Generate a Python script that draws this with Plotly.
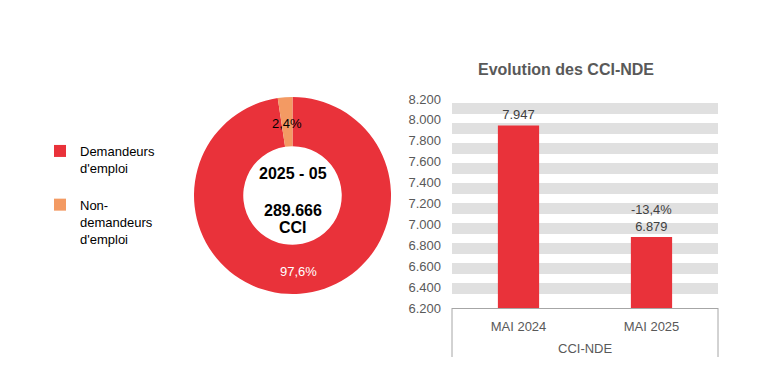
import plotly.graph_objects as go

# Donut data
pie_legend_text = ["Demandeurs<br>d'emploi<br> ", "Non-<br>demandeurs<br>d'emploi"]
pie_shares = [97.6, 2.4]
pie_colors = ["#E9323A", "#F39A63"]
center_period = "2025 - 05"
center_total = "289.666"
center_unit = "CCI"

# Bar data
bar_group = "CCI-NDE"
bar_categories = ["MAI 2024", "MAI 2025"]
bar_values = [7947, 6879]
y_ticks = [6200, 6400, 6600, 6800, 7000, 7200, 7400, 7600, 7800, 8000, 8200]
bar_title = "Evolution des CCI-NDE"

FONT = "Liberation Sans, Arial, sans-serif"
GREY = "#595959"
LINE = "#A6A6A6"
W, H = 766, 377
OFF = 8  # page body margin


def px(x):
    return (x - OFF) / W


def py(y):
    return 1 - (y - OFF) / H


def fmt_int(v):
    return f"{v:,}".replace(",", ".")


def fmt_pct(v):
    return f"{v:.1f}".replace(".", ",") + "%"


change = (bar_values[1] - bar_values[0]) / bar_values[0] * 100
bar_text = [fmt_int(bar_values[0]), fmt_pct(change) + "<br>" + fmt_int(bar_values[1])]

TOP_PX, BOT_PX = 99, 308
X0, X1 = px(452), px(718)
Y0, Y1 = py(BOT_PX), py(TOP_PX)
# grid axis extended a few pixels above so the top band is drawn, same scale
EXT_PX = 10
units_per_px = (y_ticks[-1] - y_ticks[0]) / (BOT_PX - TOP_PX)

fig = go.Figure()

fig.add_trace(go.Pie(
    labels=pie_legend_text,
    values=pie_shares,
    marker=dict(colors=pie_colors, line=dict(width=0)),
    hole=0.5,
    sort=False,
    direction="clockwise",
    rotation=0,
    textinfo="none",
    domain=dict(x=[px(194), px(391)], y=[py(294), py(97)]),
    showlegend=True,
))

fig.add_trace(go.Bar(
    x=bar_categories,
    y=bar_values,
    marker=dict(color=pie_colors[0], line=dict(width=0)),
    width=0.31,
    text=bar_text,
    textposition="outside",
    textfont=dict(family=FONT, size=13, color="#404040"),
    cliponaxis=False,
    showlegend=False,
))

fig.add_trace(go.Scatter(x=[], y=[], xaxis="x", yaxis="y2", showlegend=False))


def ann(text, x, y, size, color, bold=False):
    return dict(text=f"<b>{text}</b>" if bold else text, x=px(x), y=py(y),
                xanchor="center", yanchor="middle", xref="paper", yref="paper",
                showarrow=False, font=dict(family=FONT, size=size, color=color))


annotations = [
    ann(center_period, 292.5, 173, 16, "#000", True),
    ann(center_total, 292.5, 210, 16, "#000", True),
    ann(center_unit, 292.5, 227, 16, "#000", True),
    ann(fmt_pct(pie_shares[1]), 286.5, 123, 13, "#000"),
    ann(fmt_pct(pie_shares[0]), 298, 271, 13, "#fff"),
    ann(bar_title, 566, 70, 16, GREY, True),
    ann(bar_group, 585, 348, 13, GREY),
]

shapes = [
    dict(type="line", xref="paper", yref="paper", x0=X0, x1=X0, y0=Y0, y1=py(357),
         line=dict(color=LINE, width=1)),
    dict(type="line", xref="paper", yref="paper", x0=X1, x1=X1, y0=Y0, y1=py(357),
         line=dict(color=LINE, width=1)),
]

fig.update_layout(
    width=W, height=H,
    margin=dict(l=0, r=0, t=0, b=0, autoexpand=False),
    paper_bgcolor="white", plot_bgcolor="white",
    font=dict(family=FONT, size=13, color="#000"),
    separators=",.",
    annotations=annotations,
    shapes=shapes,
    legend=dict(x=px(40), y=py(136), xanchor="left", yanchor="top",
                valign="top", font=dict(family=FONT, size=13, color="#000"),
                bgcolor="rgba(0,0,0,0)", tracegroupgap=0),
    xaxis=dict(
        type="category",
        domain=[X0, X1],
        anchor="y",
        automargin=False,
        showline=True, linecolor=LINE, linewidth=1,
        showgrid=False,
        tickfont=dict(family=FONT, size=13, color=GREY),
        ticks="",
        ticklabelstandoff=6,
    ),
    yaxis=dict(
        domain=[Y0, Y1],
        range=[y_ticks[0], y_ticks[-1]],
        tickvals=y_ticks,
        tickformat=",d",
        automargin=False,
        showgrid=False, zeroline=False,
        showline=False,
        tickfont=dict(family=FONT, size=13, color=GREY),
        ticklabelstandoff=10,
    ),
    yaxis2=dict(
        domain=[Y0, py(TOP_PX - EXT_PX)],
        overlaying="y",
        anchor="x",
        automargin=False,
        range=[y_ticks[0], y_ticks[-1] + EXT_PX * units_per_px],
        tickvals=y_ticks[1:],
        showticklabels=False,
        showgrid=True, gridcolor="#E0E0E0", gridwidth=11,
        zeroline=False,
        layer="below traces",
    ),
)

fig.write_html("out.html")
